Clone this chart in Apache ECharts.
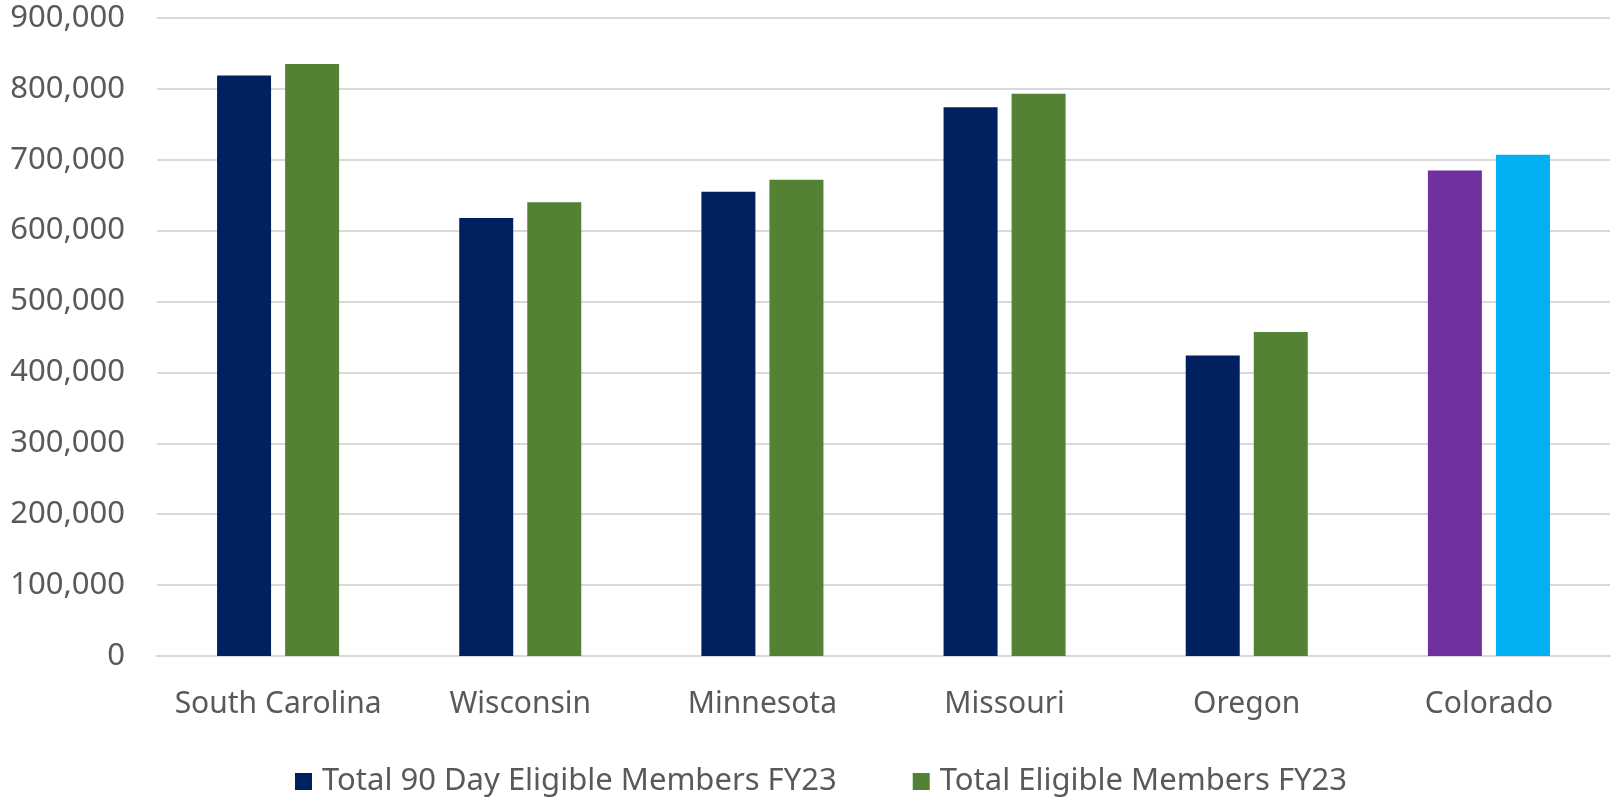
<html>
<head>
    <meta charset="utf-8">
    <script src="https://cdn.jsdelivr.net/npm/echarts@6/dist/echarts.min.js"></script>
    <style>
        body { margin: 0; background: #fff; }
        #container { width: 1612px; height: 798px; }
    </style>
</head>
<body>
    <div id="container"></div>
    <script type="text/javascript">
        var states = ['South Carolina', 'Wisconsin', 'Minnesota', 'Missouri', 'Oregon', 'Colorado'];
        var eligible90 = [819000, 618000, 655000, 774000, 424000, 685000];
        var eligibleTotal = [835000, 640000, 672000, 793000, 457000, 707000];
        var yTicks = [0, 100000, 200000, 300000, 400000, 500000, 600000, 700000, 800000, 900000];

        var textColor = '#595959';
        var font = 'Noto Sans';

        // Colorado bars use their own colours in the original
        function withColorado(values, color) {
            return values.map(function (v, i) {
                if (states[i] === 'Colorado') {
                    return { value: v, itemStyle: { color: color } };
                }
                return v;
            });
        }

        var myChart = echarts.init(document.getElementById('container'), null, { renderer: 'canvas' });

        var option = {
            animation: false,
            grid: { left: 157, right: 2, top: 18, bottom: 142 },
            legend: {
                top: 761,
                left: 290,
                icon: 'rect',
                itemWidth: 17,
                itemHeight: 17,
                itemGap: 76,
                textStyle: { color: textColor, fontSize: 31, fontFamily: font, padding: [0, 0, 0, 5] },
                data: ['Total 90 Day Eligible Members FY23', 'Total Eligible Members FY23']
            },
            xAxis: {
                type: 'category',
                data: states,
                axisTick: { show: false },
                axisLine: { lineStyle: { color: '#D9D9D9', width: 2 } },
                axisLabel: { color: textColor, fontSize: 30, fontFamily: font, margin: 33, interval: 0 }
            },
            yAxis: {
                type: 'value',
                min: yTicks[0],
                max: yTicks[yTicks.length - 1],
                interval: yTicks[1] - yTicks[0],
                axisLine: { show: false },
                axisTick: { show: false },
                splitLine: { lineStyle: { color: '#D9D9D9', width: 2 } },
                axisLabel: {
                    color: textColor, fontSize: 31, fontFamily: font, margin: 32,
                    formatter: function (v) { return v.toLocaleString('en-US'); }
                }
            },
            series: [
                {
                    name: 'Total 90 Day Eligible Members FY23',
                    type: 'bar',
                    barWidth: 54,
                    barGap: '26%',
                    itemStyle: { color: '#002060' },
                    data: withColorado(eligible90, '#7030A0')
                },
                {
                    name: 'Total Eligible Members FY23',
                    type: 'bar',
                    barWidth: 54,
                    barGap: '26%',
                    itemStyle: { color: '#548235' },
                    data: withColorado(eligibleTotal, '#00B0F0')
                }
            ]
        };
        myChart.setOption(option);
    </script>
</body>
</html>
